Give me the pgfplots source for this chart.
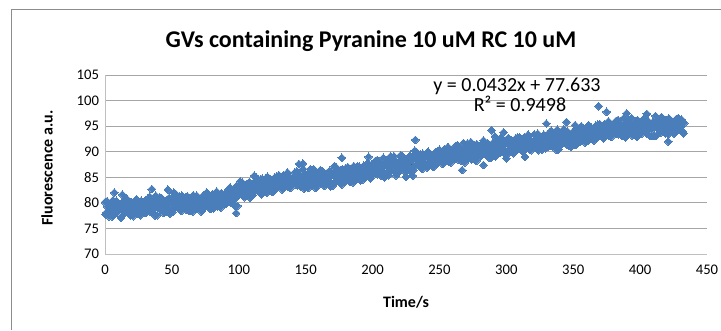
\documentclass[border=0pt]{standalone}
\usepackage{pgfplots}
\pgfplotsset{compat=1.18}
\usepackage{fontspec}
\setmainfont{Carlito}
\definecolor{ptblue}{HTML}{4A7EBB}
\definecolor{gridc}{HTML}{A6A6A6}
\definecolor{axc}{HTML}{BFBFBF}
\begin{document}
\begin{tikzpicture}
\path[use as bounding box] (0,0) rectangle (540.75pt,247.5pt);
\draw[black!45, line width=0.75pt] (8.25pt,0) -- (8.25pt,240.75pt) -- (541pt,240.75pt);
\begin{axis}[
  at={(78.75pt,57pt)}, anchor=south west,
  scale only axis, width=451.5pt, height=134.25pt,
  xmin=0, xmax=450, ymin=70, ymax=105,
  xtick={0,50,...,450}, ytick={70,75,...,105},
  axis x line=bottom, axis y line=left,
  axis line style={-, axc, line width=0.75pt},
  ymajorgrids, grid style={gridc, line width=0.75pt},
  major tick length=0pt, tick style={draw=none},
  tick label style={font=\fontsize{11}{13}\selectfont},
  xticklabel style={yshift=-5pt},
  yticklabel style={xshift=-1pt},
  /pgf/number format/assume math mode=true,
  clip=false,
]
\addplot[only marks, mark=square*, mark size=2.05pt,
  mark options={rotate=45, fill=ptblue, draw=ptblue, line width=0pt}] coordinates {
(0,80.1)(1,78.1)(2,79.2)(3,77.4)(4,79.8)(5,78.7)(6,80.5)(7,77.8)(8,79.4)(9,78.3)
(10,79.7)(11,78.9)(12,77.1)(13,80.1)(14,79.2)(15,78.1)(16,80.8)(17,78.5)(18,79.4)(19,77.6)
(20,80.1)(21,77.4)(22,79.1)(23,79.9)(24,77.8)(25,79.5)(26,78.7)(27,80.4)(28,78.2)(29,79.2)
(30,78.4)(31,80.0)(32,80.8)(33,79.1)(34,78.2)(35,80.4)(36,78.8)(37,79.5)(38,81.4)(39,77.6)
(40,79.3)(41,81.1)(42,78.6)(43,80.2)(44,78.0)(45,79.8)(46,80.5)(47,78.9)(48,81.0)(49,78.4)
(50,80.3)(51,78.7)(52,80.9)(53,81.7)(54,79.3)(55,79.8)(56,81.2)(57,78.4)(58,80.5)(59,79.6)
(60,81.1)(61,79.1)(62,80.2)(63,78.4)(64,80.8)(65,79.7)(66,81.5)(67,78.8)(68,80.4)(69,79.3)
(70,80.9)(71,80.1)(72,78.3)(73,81.3)(74,80.4)(75,79.3)(76,82.0)(77,79.7)(78,80.6)(79,78.8)
(80,81.6)(81,78.9)(82,80.6)(83,81.4)(84,79.3)(85,81.0)(86,80.2)(87,81.9)(88,79.7)(89,80.7)
(90,80.2)(91,81.8)(92,82.6)(93,80.9)(94,80.0)(95,82.2)(96,80.6)(97,81.3)(98,83.2)(99,79.4)
(100,82.4)(101,84.2)(102,81.7)(103,83.3)(104,81.1)(105,82.9)(106,83.6)(107,82.0)(108,84.1)(109,81.5)
(110,83.6)(111,82.0)(112,84.2)(113,85.0)(114,82.6)(115,83.1)(116,84.5)(117,81.7)(118,83.8)(119,82.9)
(120,84.7)(121,82.0)(122,83.7)(123,84.5)(124,82.4)(125,84.1)(126,83.3)(127,85.0)(128,82.8)(129,83.8)
(130,85.4)(131,83.4)(132,84.5)(133,82.7)(134,85.1)(135,84.0)(136,85.8)(137,83.1)(138,84.7)(139,83.6)
(140,83.6)(141,85.2)(142,86.0)(143,84.3)(144,83.4)(145,85.6)(146,84.0)(147,84.7)(148,86.6)(149,82.8)
(150,85.5)(151,84.7)(152,82.9)(153,85.9)(154,85.0)(155,83.9)(156,86.6)(157,84.3)(158,85.2)(159,83.4)
(160,84.6)(161,86.4)(162,83.9)(163,85.5)(164,83.3)(165,85.1)(166,85.8)(167,84.2)(168,86.3)(169,83.7)
(170,85.5)(171,83.9)(172,86.1)(173,86.9)(174,84.5)(175,85.0)(176,86.4)(177,83.6)(178,85.7)(179,84.8)
(180,86.8)(181,84.8)(182,85.9)(183,84.1)(184,86.5)(185,85.4)(186,87.2)(187,84.5)(188,86.1)(189,85.0)
(190,87.1)(191,84.4)(192,86.1)(193,86.9)(194,84.8)(195,86.5)(196,85.7)(197,87.4)(198,85.2)(199,86.2)
(200,85.8)(201,87.4)(202,88.2)(203,86.5)(204,85.6)(205,87.8)(206,86.2)(207,86.9)(208,88.8)(209,85.0)
(210,88.0)(211,87.2)(212,85.4)(213,88.4)(214,87.5)(215,86.4)(216,89.1)(217,86.8)(218,87.7)(219,85.9)
(220,87.5)(221,89.3)(222,86.8)(223,88.4)(224,86.2)(225,88.0)(226,88.7)(227,87.1)(228,89.2)(229,86.6)
(230,88.5)(231,86.9)(232,89.1)(233,89.9)(234,87.5)(235,88.0)(236,89.4)(237,86.6)(238,88.7)(239,87.8)
(240,89.6)(241,86.9)(242,88.6)(243,89.4)(244,87.3)(245,89.0)(246,88.2)(247,89.9)(248,87.7)(249,88.7)
(250,90.4)(251,88.4)(252,89.5)(253,87.7)(254,90.1)(255,89.0)(256,90.8)(257,88.1)(258,89.7)(259,88.6)
(260,88.7)(261,90.3)(262,91.1)(263,89.4)(264,88.5)(265,90.7)(266,89.1)(267,89.8)(268,91.7)(269,87.9)
(270,89.8)(271,91.6)(272,89.1)(273,90.7)(274,88.5)(275,90.3)(276,91.0)(277,89.4)(278,91.5)(279,88.9)
(280,90.8)(281,89.2)(282,91.4)(283,92.2)(284,89.8)(285,90.3)(286,91.7)(287,88.9)(288,91.0)(289,90.1)
(290,91.7)(291,90.9)(292,89.1)(293,92.1)(294,91.2)(295,90.1)(296,92.8)(297,90.5)(298,91.4)(299,89.6)
(300,92.3)(301,89.6)(302,91.3)(303,92.1)(304,90.0)(305,91.7)(306,90.9)(307,92.6)(308,90.4)(309,91.4)
(310,92.8)(311,90.8)(312,91.9)(313,90.1)(314,92.5)(315,91.4)(316,93.2)(317,90.5)(318,92.1)(319,91.0)
(320,91.6)(321,93.4)(322,90.9)(323,92.5)(324,90.3)(325,92.1)(326,92.8)(327,91.2)(328,93.3)(329,90.7)
(330,91.3)(331,92.9)(332,93.7)(333,92.0)(334,91.1)(335,93.3)(336,91.7)(337,92.4)(338,94.3)(339,90.5)
(340,93.0)(341,91.4)(342,93.6)(343,94.4)(344,92.0)(345,92.5)(346,93.9)(347,91.1)(348,93.2)(349,92.3)
(350,93.9)(351,93.1)(352,91.3)(353,94.3)(354,93.4)(355,92.3)(356,95.0)(357,92.7)(358,93.6)(359,91.8)
(360,94.8)(361,92.1)(362,93.8)(363,94.6)(364,92.5)(365,94.2)(366,93.4)(367,95.1)(368,92.9)(369,93.9)
(370,95.4)(371,93.4)(372,94.5)(373,92.7)(374,95.1)(375,94.0)(376,95.8)(377,93.1)(378,94.7)(379,93.6)
(380,93.6)(381,95.2)(382,96.0)(383,94.3)(384,93.4)(385,95.6)(386,94.0)(387,94.7)(388,96.6)(389,92.8)
(390,94.5)(391,96.3)(392,93.8)(393,95.4)(394,93.2)(395,95.0)(396,95.7)(397,94.1)(398,96.2)(399,93.6)
(400,95.1)(401,93.5)(402,95.7)(403,96.5)(404,94.1)(405,94.6)(406,96.0)(407,93.2)(408,95.3)(409,94.4)
(410,95.7)(411,94.9)(412,93.1)(413,96.1)(414,95.2)(415,94.1)(416,96.8)(417,94.5)(418,95.4)(419,93.6)
(420,96.1)(421,93.4)(422,95.1)(423,95.9)(424,93.8)(425,95.5)(426,94.7)(427,96.4)(428,94.2)(429,95.2)
(430,94.9)(431,96.3)(432,93.9)(433,95.6)
(0.5,77.7)(1.5,80.3)(2.5,78.2)(3.5,79.8)(4.5,79.1)(5.5,77.3)(6.5,79.5)(7.5,77.9)(8.5,80.4)(9.5,78.6)
(10.5,78.6)(11.5,79.5)(12.5,77.4)(13.5,80.2)(14.5,78.8)(15.5,78.3)(16.5,80.7)(17.5,79.9)(18.5,77.7)(19.5,79.3)
(20.5,78.5)(21.5,79.6)(22.5,78.0)(23.5,80.7)(24.5,78.9)(25.5,80.0)(26.5,77.6)(27.5,79.4)(28.5,78.3)(29.5,80.3)
(30.5,78.0)(31.5,79.8)(32.5,78.9)(33.5,81.2)(34.5,78.5)(35.5,79.6)(36.5,80.5)(37.5,77.5)(38.5,79.3)(39.5,80.1)
(40.5,79.7)(41.5,78.7)(42.5,80.9)(43.5,79.2)(44.5,80.0)(45.5,78.3)(46.5,80.4)(47.5,79.6)(48.5,77.9)(49.5,80.6)
(50.5,78.2)(51.5,82.0)(52.5,80.1)(53.5,79.4)(54.5,81.0)(55.5,78.8)(56.5,79.7)(57.5,81.4)(58.5,80.6)(59.5,79.0)
(60.5,78.7)(61.5,81.3)(62.5,79.2)(63.5,80.8)(64.5,80.1)(65.5,78.3)(66.5,80.5)(67.5,78.9)(68.5,81.4)(69.5,79.6)
(70.5,79.8)(71.5,80.7)(72.5,78.6)(73.5,81.4)(74.5,80.0)(75.5,79.5)(76.5,81.9)(77.5,81.1)(78.5,78.9)(79.5,80.5)
(80.5,80.0)(81.5,81.1)(82.5,79.5)(83.5,82.2)(84.5,80.4)(85.5,81.5)(86.5,79.1)(87.5,80.9)(88.5,79.8)(89.5,81.8)
(90.5,79.8)(91.5,81.6)(92.5,80.7)(93.5,83.0)(94.5,80.3)(95.5,81.4)(96.5,82.3)(97.5,79.3)(98.5,81.1)(99.5,81.9)
(100.5,82.8)(101.5,81.8)(102.5,84.0)(103.5,82.3)(104.5,83.1)(105.5,81.4)(106.5,83.5)(107.5,82.7)(108.5,81.0)(109.5,83.7)
(110.5,81.5)(111.5,85.3)(112.5,83.4)(113.5,82.7)(114.5,84.3)(115.5,82.1)(116.5,83.0)(117.5,84.7)(118.5,83.9)(119.5,82.3)
(120.5,82.5)(121.5,85.1)(122.5,83.0)(123.5,84.6)(124.5,83.9)(125.5,82.1)(126.5,84.3)(127.5,82.7)(128.5,85.2)(129.5,83.4)
(130.5,83.8)(131.5,84.7)(132.5,82.6)(133.5,85.4)(134.5,84.0)(135.5,83.5)(136.5,85.9)(137.5,85.1)(138.5,82.9)(139.5,84.5)
(140.5,84.0)(141.5,85.1)(142.5,83.5)(143.5,86.2)(144.5,84.4)(145.5,85.5)(146.5,83.1)(147.5,84.9)(148.5,83.8)(149.5,85.8)
(150.5,83.4)(151.5,85.2)(152.5,84.3)(153.5,86.6)(154.5,83.9)(155.5,85.0)(156.5,85.9)(157.5,82.9)(158.5,84.7)(159.5,85.5)
(160.5,85.0)(161.5,84.0)(162.5,86.2)(163.5,84.5)(164.5,85.3)(165.5,83.6)(166.5,85.7)(167.5,84.9)(168.5,83.2)(169.5,85.9)
(170.5,83.4)(171.5,87.2)(172.5,85.3)(173.5,84.6)(174.5,86.2)(175.5,84.0)(176.5,84.9)(177.5,86.6)(178.5,85.8)(179.5,84.2)
(180.5,84.4)(181.5,87.0)(182.5,84.9)(183.5,86.5)(184.5,85.8)(185.5,84.0)(186.5,86.2)(187.5,84.6)(188.5,87.1)(189.5,85.3)
(190.5,85.7)(191.5,86.6)(192.5,84.5)(193.5,87.3)(194.5,85.9)(195.5,85.4)(196.5,87.8)(197.5,87.0)(198.5,84.8)(199.5,86.4)
(200.5,86.2)(201.5,87.3)(202.5,85.7)(203.5,88.4)(204.5,86.6)(205.5,87.7)(206.5,85.3)(207.5,87.1)(208.5,86.0)(209.5,88.0)
(210.5,85.9)(211.5,87.7)(212.5,86.8)(213.5,89.1)(214.5,86.4)(215.5,87.5)(216.5,88.4)(217.5,85.4)(218.5,87.2)(219.5,88.0)
(220.5,87.9)(221.5,86.9)(222.5,89.1)(223.5,87.4)(224.5,88.2)(225.5,86.5)(226.5,88.6)(227.5,87.8)(228.5,86.1)(229.5,88.8)
(230.5,86.4)(231.5,90.2)(232.5,88.3)(233.5,87.6)(234.5,89.2)(235.5,87.0)(236.5,87.9)(237.5,89.6)(238.5,88.8)(239.5,87.2)
(240.5,87.4)(241.5,90.0)(242.5,87.9)(243.5,89.5)(244.5,88.8)(245.5,87.0)(246.5,89.2)(247.5,87.6)(248.5,90.1)(249.5,88.3)
(250.5,88.8)(251.5,89.7)(252.5,87.6)(253.5,90.4)(254.5,89.0)(255.5,88.5)(256.5,90.9)(257.5,90.1)(258.5,87.9)(259.5,89.5)
(260.5,89.1)(261.5,90.2)(262.5,88.6)(263.5,91.3)(264.5,89.5)(265.5,90.6)(266.5,88.2)(267.5,90.0)(268.5,88.9)(269.5,90.9)
(270.5,88.7)(271.5,90.5)(272.5,89.6)(273.5,91.9)(274.5,89.2)(275.5,90.3)(276.5,91.2)(277.5,88.2)(278.5,90.0)(279.5,90.8)
(280.5,90.6)(281.5,89.6)(282.5,91.8)(283.5,90.1)(284.5,90.9)(285.5,89.2)(286.5,91.3)(287.5,90.5)(288.5,88.8)(289.5,91.5)
(290.5,89.2)(291.5,93.0)(292.5,91.1)(293.5,90.4)(294.5,92.0)(295.5,89.8)(296.5,90.7)(297.5,92.4)(298.5,91.6)(299.5,90.0)
(300.5,90.1)(301.5,92.7)(302.5,90.6)(303.5,92.2)(304.5,91.5)(305.5,89.7)(306.5,91.9)(307.5,90.3)(308.5,92.8)(309.5,91.0)
(310.5,91.2)(311.5,92.1)(312.5,90.0)(313.5,92.8)(314.5,91.4)(315.5,90.9)(316.5,93.3)(317.5,92.5)(318.5,90.3)(319.5,91.9)
(320.5,91.3)(321.5,92.4)(322.5,90.8)(323.5,93.5)(324.5,91.7)(325.5,92.8)(326.5,90.4)(327.5,92.2)(328.5,91.1)(329.5,93.1)
(330.5,90.9)(331.5,92.7)(332.5,91.8)(333.5,94.1)(334.5,91.4)(335.5,92.5)(336.5,93.4)(337.5,90.4)(338.5,92.2)(339.5,93.0)
(340.5,92.8)(341.5,91.8)(342.5,94.0)(343.5,92.3)(344.5,93.1)(345.5,91.4)(346.5,93.5)(347.5,92.7)(348.5,91.0)(349.5,93.7)
(350.5,91.4)(351.5,95.2)(352.5,93.3)(353.5,92.6)(354.5,94.2)(355.5,92.0)(356.5,92.9)(357.5,94.6)(358.5,93.8)(359.5,92.2)
(360.5,92.6)(361.5,95.2)(362.5,93.1)(363.5,94.7)(364.5,94.0)(365.5,92.2)(366.5,94.4)(367.5,92.8)(368.5,95.3)(369.5,93.5)
(370.5,93.8)(371.5,94.7)(372.5,92.6)(373.5,95.4)(374.5,94.0)(375.5,93.5)(376.5,95.9)(377.5,95.1)(378.5,92.9)(379.5,94.5)
(380.5,94.0)(381.5,95.1)(382.5,93.5)(383.5,96.2)(384.5,94.4)(385.5,95.5)(386.5,93.1)(387.5,94.9)(388.5,93.8)(389.5,95.8)
(390.5,93.4)(391.5,95.2)(392.5,94.3)(393.5,96.6)(394.5,93.9)(395.5,95.0)(396.5,95.9)(397.5,92.9)(398.5,94.7)(399.5,95.5)
(400.5,94.9)(401.5,93.9)(402.5,96.1)(403.5,94.4)(404.5,95.2)(405.5,93.5)(406.5,95.6)(407.5,94.8)(408.5,93.1)(409.5,95.8)
(410.5,93.2)(411.5,97.0)(412.5,95.1)(413.5,94.4)(414.5,96.0)(415.5,93.8)(416.5,94.7)(417.5,96.4)(418.5,95.6)(419.5,94.0)
(420.5,93.9)(421.5,96.5)(422.5,94.4)(423.5,96.0)(424.5,95.3)(425.5,93.5)(426.5,95.7)(427.5,94.1)(428.5,96.6)(429.5,94.8)
(430.5,94.8)(431.5,95.7)(432.5,93.6)
(7,82.0)(13,81.6)(35,82.7)(47,82.6)(98,78.0)(145,87.6)(148,87.7)(177,88.8)(197,89.0)
(225,85.1)(230,85.3)(232,92.3)(267,86.4)(283,87.4)(289,94.2)(298,93.8)(300,88.7)(314,89.0)
(330,95.5)(345,95.8)(369,98.9)(375,97.8)(390,97.5)(405,97.4)(421,92.0)
};
\addplot[black, line width=0.75pt] coordinates {(0,77.633) (433,96.339)};
\end{axis}
\node[font=\fontsize{18}{21}\selectfont\bfseries] at (278.25pt,216.75pt) {GVs containing Pyranine 10 uM RC 10 uM};
\node[font=\fontsize{12}{14}\selectfont\bfseries] at (304.5pt,21pt) {Time/s};
\node[font=\fontsize{12}{14}\selectfont\bfseries, rotate=90] at (35.25pt,121.5pt) {Fluorescence a.u.};
\node[font=\fontsize{15}{17}\selectfont] at (387.75pt,183pt) {y = 0.0432x + 77.633};
\node[font=\fontsize{15}{17}\selectfont] at (390pt,169.5pt) {R² = 0.9498};
\end{tikzpicture}
\end{document}
